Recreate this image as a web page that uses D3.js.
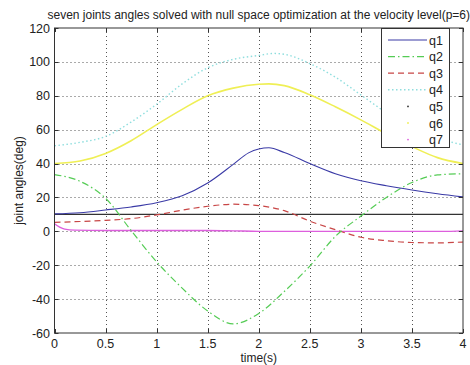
<!DOCTYPE html>
<html>
<head>
<meta charset="utf-8">
<script src="https://cdn.jsdelivr.net/npm/d3@7"></script>
<style>
  html, body { margin: 0; padding: 0; background: #fff; }
  svg { display: block; font-family: "Liberation Sans", Arial, sans-serif; }
</style>
</head>
<body>
<svg id="chart" width="470" height="365"></svg>
<script>
// Joint trajectories (degrees) over time (s)
const q1 = [[0,10.3],[0.25,11],[0.5,12.6],[0.75,14.4],[1,16.9],[1.25,21],[1.5,28.5],[1.75,39.5],[1.9,46.3],[2,48.6],[2.1,49.3],[2.25,46.5],[2.5,40],[2.75,34],[3,29.8],[3.25,26.9],[3.5,24.4],[3.75,22.2],[4,20.3]];
const q2 = [[0,33.5],[0.25,29.5],[0.5,19.5],[0.75,0.5],[1,-18],[1.25,-33.5],[1.5,-47],[1.75,-54.6],[2,-48.5],[2.25,-35.5],[2.5,-20.5],[2.75,-3],[3,9],[3.25,20],[3.5,28.8],[3.75,33.3],[4,34]];
const q3 = [[0,5.3],[0.25,5.8],[0.5,6.5],[0.75,7.5],[1,9.7],[1.25,12.5],[1.5,14.8],[1.75,16],[2,15.2],[2.25,12.2],[2.5,6],[2.75,1],[3,-3.5],[3.25,-5.5],[3.5,-6.6],[3.75,-6.8],[4,-6.3]];
const q4 = [[0,50.5],[0.25,52.5],[0.5,56],[0.75,64.5],[1,75],[1.25,87],[1.5,96.5],[1.75,101.5],[2,103.8],[2.15,105],[2.25,104.5],[2.5,99],[2.75,91],[3,80.5],[3.25,70],[3.5,61],[3.75,55],[4,51]];
const q5 = [[0,10],[1,10],[2,10],[3,10],[4,10]];
const q6 = [[0,40],[0.25,41.5],[0.5,46],[0.75,53.5],[1,63],[1.25,72],[1.5,80],[1.75,84.5],[2,86.8],[2.1,87],[2.25,86],[2.5,80.6],[2.75,73.5],[3,65.8],[3.25,57.5],[3.5,50],[3.75,43.5],[4,40]];
const q7 = [[0,4.5],[0.05,2.5],[0.1,1.3],[0.2,0.7],[0.5,0.5],[1,0.5],[1.5,0.5],[1.75,0.3],[2,0],[2.5,0],[3,0],[3.5,0],[3.8,0],[4,0.3]];

const xTicks = [0, 0.5, 1, 1.5, 2, 2.5, 3, 3.5, 4];
const yTicks = [-60, -40, -20, 0, 20, 40, 60, 80, 100, 120];
const seriesNames = ["q1", "q2", "q3", "q4", "q5", "q6", "q7"];

const titleText = "seven joints angles solved with null space optimization at the velocity level(p=6)";

const svg = d3.select("#chart");
const L = 54.5, R = 463, T = 28, B = 333;
const x = d3.scaleLinear().domain([0, 4]).range([L, R]);
const y = d3.scaleLinear().domain([-60, 120]).range([B, T]);

// grid
const grid = svg.append("g").attr("stroke", "#555").attr("stroke-width", 1).attr("stroke-dasharray", "1,3");
grid.selectAll(".gx").data(xTicks.slice(1, -1)).join("line")
  .attr("x1", d => Math.round(x(d)) + 0.5).attr("x2", d => Math.round(x(d)) + 0.5)
  .attr("y1", T).attr("y2", B);
grid.selectAll(".gy").data(yTicks.slice(1, -1)).join("line")
  .attr("y1", d => Math.round(y(d)) + 0.5).attr("y2", d => Math.round(y(d)) + 0.5)
  .attr("x1", L).attr("x2", R);

// series
const line = d3.line().x(d => x(d[0])).y(d => y(d[1])).curve(d3.curveMonotoneX);
const styles = [
  { data: q1, color: "#3a3aa6", dash: null, w: 1.1 },
  { data: q2, color: "#55cc55", dash: "7,3,1.5,3", w: 1.2 },
  { data: q3, color: "#c84646", dash: "6,4", w: 1.2 },
  { data: q4, color: "#8fdede", dash: "1.5,2.5", w: 1.4 },
  { data: q5, color: "#333333", dash: null, w: 1.2 },
  { data: q6, color: "#efef55", dash: null, w: 1.6 },
  { data: q7, color: "#dd5fdd", dash: null, w: 1.4 }
];
const plot = svg.append("g");
// draw order: q4, q6 behind, then others
[3, 5, 4, 6, 2, 1, 0].forEach(i => {
  const s = styles[i];
  plot.append("path").datum(s.data)
    .attr("fill", "none").attr("stroke", s.color).attr("stroke-width", s.w)
    .attr("stroke-dasharray", s.dash).attr("d", line);
});

// frame + ticks
const ax = svg.append("g").attr("stroke", "#333").attr("stroke-width", 1);
ax.append("rect").attr("x", L).attr("y", T).attr("width", R - L).attr("height", B - T).attr("fill", "none");
xTicks.forEach(t => {
  const px = Math.round(x(t)) + 0.5;
  ax.append("line").attr("x1", px).attr("x2", px).attr("y1", B).attr("y2", B - 4);
  ax.append("line").attr("x1", px).attr("x2", px).attr("y1", T).attr("y2", T + 4);
});
yTicks.forEach(t => {
  const py = Math.round(y(t)) + 0.5;
  ax.append("line").attr("x1", L).attr("x2", L + 4).attr("y1", py).attr("y2", py);
  ax.append("line").attr("x1", R).attr("x2", R - 4).attr("y1", py).attr("y2", py);
});

// tick labels
svg.append("g").selectAll("text").data(xTicks).join("text")
  .attr("x", d => x(d)).attr("y", 348).attr("text-anchor", "middle")
  .attr("font-size", 12.5).attr("fill", "#222").text(d => d);
svg.append("g").selectAll("text").data(yTicks).join("text")
  .attr("x", 50).attr("y", d => y(d) + 4.5).attr("text-anchor", "end")
  .attr("font-size", 12.5).attr("fill", "#222").text(d => d);

// axis titles
svg.append("text").attr("x", (L + R) / 2).attr("y", 362).attr("text-anchor", "middle")
  .attr("font-size", 12).attr("fill", "#222").text("time(s)");
svg.append("text").attr("transform", `translate(23,${(T + B) / 2}) rotate(-90)`)
  .attr("text-anchor", "middle").attr("font-size", 12).attr("fill", "#222").text("joint angles(deg)");
svg.append("text").attr("x", (L + R) / 2).attr("y", 19).attr("text-anchor", "middle")
  .attr("font-size", 12).attr("fill", "#222").text(titleText);

// legend
const lg = svg.append("g");
lg.append("rect").attr("x", 381.5).attr("y", T + 0.5).attr("width", 68).attr("height", 119)
  .attr("fill", "#fff").attr("stroke", "#333");
seriesNames.forEach((n, i) => {
  const s = styles[i];
  const cy = 40 + i * 16.6;
  if (i < 4) {
    lg.append("line").attr("x1", 388).attr("x2", 427).attr("y1", cy).attr("y2", cy)
      .attr("stroke", s.color).attr("stroke-width", s.w).attr("stroke-dasharray", s.dash);
  } else {
    lg.append("circle").attr("cx", 408).attr("cy", cy).attr("r", 0.9).attr("fill", s.color);
  }
  lg.append("text").attr("x", 429).attr("y", cy + 4.5).attr("font-size", 12.5).attr("fill", "#222").text(n);
});
</script>
</body>
</html>
